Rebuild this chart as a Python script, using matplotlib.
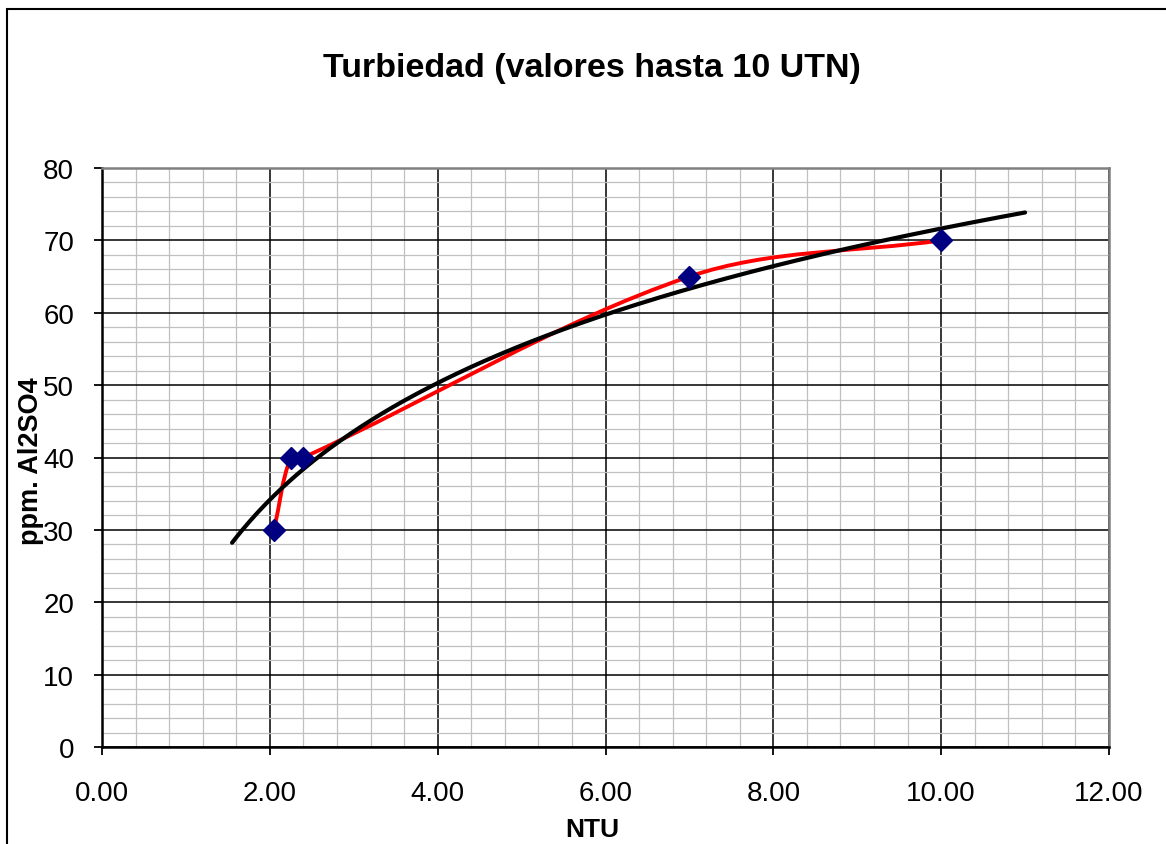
import numpy as np
import matplotlib
matplotlib.use('Agg')
import matplotlib.pyplot as plt
from matplotlib.path import Path
from matplotlib.patches import PathPatch, Rectangle
from matplotlib.ticker import MultipleLocator, FormatStrFormatter

plt.rcParams['font.family'] = ['Liberation Sans', 'DejaVu Sans']

# data
ntu = [2.05, 2.25, 2.40, 7.00, 10.00]
ppm = [30, 40, 40, 65, 70]
trend_from = 1.55   # log trendline, forecast back/forward
trend_to = 11.0

title = 'Turbiedad (valores hasta 10 UTN)'
xlabel = 'NTU'
ylabel = 'ppm. Al2SO4'

W, H = 1166, 845
fig = plt.figure(figsize=(W / 100, H / 100), dpi=100)
ax = fig.add_axes([102 / W, 1 - 748 / H, (1109 - 102) / W, (748 - 169) / H])

# outer chart border (cropped on the right and bottom)
fig.patches.append(Rectangle((7 / W, -0.5), 2.0, 1.5 - 10 / H,
                             transform=fig.transFigure, fill=False,
                             edgecolor='black', linewidth=1.5))

ax.set_xlim(0, 12)
ax.set_ylim(0, 80)
ax.xaxis.set_major_locator(MultipleLocator(2))
ax.xaxis.set_minor_locator(MultipleLocator(0.4))
ax.yaxis.set_major_locator(MultipleLocator(10))
ax.yaxis.set_minor_locator(MultipleLocator(2))
ax.xaxis.set_major_formatter(FormatStrFormatter('%.2f'))

ax.grid(which='minor', color='#c0c0c0', linewidth=0.9, zorder=0)
ax.grid(which='major', color='black', linewidth=1.1, zorder=1)
ax.set_axisbelow(True)

ax.tick_params(which='major', direction='out', length=6, width=1.3,
               labelsize=20, colors='black')
ax.tick_params(axis='y', which='major', pad=14)
ax.tick_params(axis='x', which='major', pad=18)
ax.tick_params(which='minor', length=0)

for side in ('left', 'bottom'):
    ax.spines[side].set_color('black')
    ax.spines[side].set_linewidth(1.8)
for side in ('top', 'right'):
    ax.spines[side].set_color('#808080')
    ax.spines[side].set_linewidth(1.8)

# smoothed line (Excel style Bezier through the points), control points
# worked out in screen space so short segments do not overshoot
pts = ax.transData.transform(np.column_stack([ntu, ppm]).astype(float))
n = len(pts)
verts = [pts[0]]
codes = [Path.MOVETO]
for i in range(n - 1):
    p0, p1 = pts[i], pts[i + 1]
    seg = np.hypot(*(p1 - p0)) / 3
    d0 = p1 - (pts[i - 1] if i > 0 else p0)
    d1 = (pts[i + 2] if i + 2 < n else p1) - p0
    c1 = p0 + d0 / np.hypot(*d0) * seg
    c2 = p1 - d1 / np.hypot(*d1) * seg
    verts += [c1, c2, p1]
    codes += [Path.CURVE4] * 3
verts = ax.transData.inverted().transform(np.array(verts))
ax.add_patch(PathPatch(Path(verts, codes), fill=False, edgecolor='#ff0000',
                       linewidth=2.8, zorder=3, capstyle='round'))

# logarithmic trendline fitted to the points
a, b = np.polyfit(np.log(ntu), ppm, 1)
xt = np.linspace(trend_from, trend_to, 300)
ax.plot(xt, a * np.log(xt) + b, color='black', linewidth=3.0, zorder=4,
        solid_capstyle='round')

ax.plot(ntu, ppm, linestyle='none', marker='D', markersize=11,
        markerfacecolor='#000080', markeredgecolor='#000080', zorder=5)

fig.text(592 / W, 1 - 68 / H, title, ha='center', va='center',
         fontsize=24.5, fontweight='bold')
fig.text(592 / W, 1 - 830 / H, xlabel, ha='center', va='center',
         fontsize=19, fontweight='bold')
fig.text(31 / W, 1 - 461 / H, ylabel, ha='center', va='center',
         rotation=90, fontsize=19.5, fontweight='bold')

plt.savefig('out.png', dpi=100)
